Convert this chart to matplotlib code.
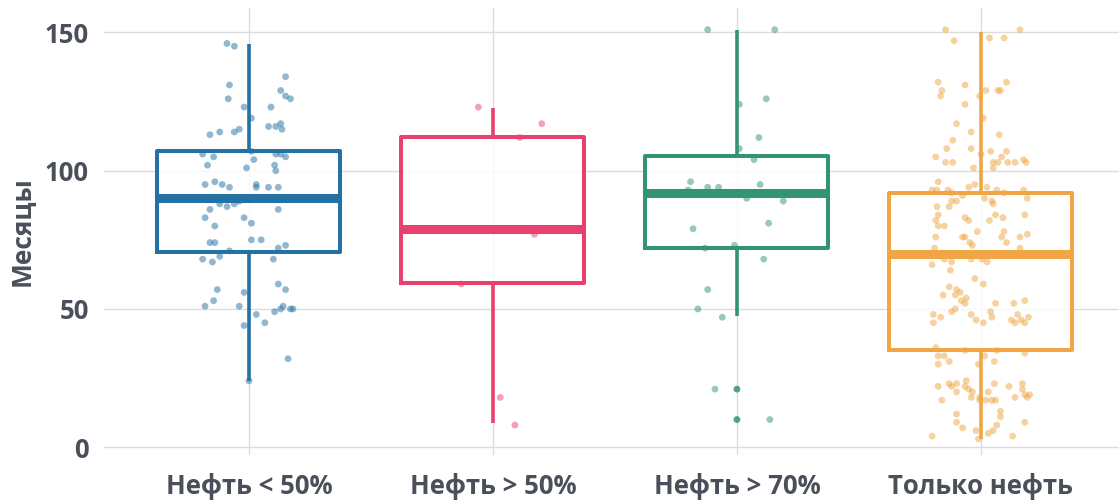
import matplotlib
matplotlib.use("Agg")
import matplotlib.pyplot as plt

# categories and colours
groups = ["Нефть < 50%", "Нефть > 50%", "Нефть > 70%", "Только нефть"]
colors = ["#2471a3", "#e8416f", "#339470", "#f0a644"]

# box statistics (months)
q1 = [70.7, 59.5, 72.0, 35.1]
med = [90.1, 79.0, 91.9, 69.8]
q3 = [107.0, 112.2, 105.4, 91.9]
whislo = [24, 8.6, 47.5, 3.1]
whishi = [145.7, 122.7, 150.8, 150.0]

# individual observations: horizontal jitter and value
blue_dx = [-0.09, -0.06, 0.15, -0.08, 0.13, 0.15, 0.17, -0.085, -0.02, 0.09,
           0.01, 0.08, 0.11, 0.13, 0.135, -0.04, -0.06, -0.12, -0.16, -0.19,
           0.01, 0.11, 0.13, 0.15, -0.145, 0.02, -0.17, 0.105, -0.01, 0.11,
           -0.18, -0.14, -0.11, -0.08, 0.03, 0.03, 0.08, 0.12,
           -0.16, -0.12, -0.09, -0.06, -0.04, 0.12,
           -0.18, -0.02, 0.01, -0.14, 0.01, 0.05, -0.16, -0.14, -0.08, 0.12,
           0.15, -0.19, -0.12, -0.15, 0.10, 0.12, 0.15, -0.13, -0.02, -0.145,
           -0.18, -0.04, 0.14, 0.13, 0.105, 0.17, 0.18, 0.03, 0.065, -0.02,
           0.16, 0.0]
blue_y = [146, 145, 134, 131, 129, 127, 126, 126, 123, 123,
          119, 116, 116, 117, 115, 115, 114, 114, 113, 106,
          107, 106, 106, 105, 105, 104, 102, 102, 101, 100,
          95, 96, 95, 94, 95, 94, 94, 94,
          86, 88, 87, 88, 89, 86,
          83, 83, 81, 80, 75, 75, 74, 74, 71, 72,
          73, 68, 69, 67, 68, 59, 57, 57, 56, 53,
          51, 51, 51, 50, 49, 50, 50, 48, 45, 44,
          32, 24]

pink_dx = [-0.06, 0.20, 0.11, 0.17, -0.13, 0.03, 0.09]
pink_y = [123, 117, 112, 77, 59, 18, 8]

green_dx = [-0.12, 0.155, 0.01, 0.12, 0.09, 0.01, 0.07, -0.19, -0.12, -0.075,
            0.095, -0.2, 0.04, 0.19, 0.13, -0.18, -0.13, -0.01, 0.11, -0.12,
            -0.16, -0.06, -0.09, 0.135]
green_y = [151, 151, 124, 126, 112, 108, 104, 96, 94, 94,
           95, 93, 90, 89, 81, 79, 72, 73, 68, 57,
           50, 47, 21, 10]
# values beyond the whiskers, drawn on the centre line
green_out = [21, 10]

orange_dx = [-0.145, 0.16, -0.11, 0.035, 0.095, -0.175, -0.16, -0.165, -0.065, 0.105,
             0.02, 0.07, 0.08, -0.005, -0.065, 0.01, -0.1, -0.04, 0.075, -0.115,
             -0.14, -0.04, 0.105, 0.04, -0.185, 0.0, 0.085, 0.175, -0.145, -0.115,
             0.05, 0.07, 0.11, 0.14, 0.185, -0.03, 0.05,
             -0.175, -0.2, -0.18, -0.135, -0.05, -0.025, 0.025, 0.065, 0.175, 0.19,
             -0.12, -0.075, 0.095, -0.10, -0.12, -0.13, 0.015, 0.045, 0.05, -0.18,
             0.18, -0.175, 0.06, 0.09, 0.035, -0.185, -0.065, -0.05, -0.15, -0.175,
             -0.015, 0.095, 0.19, 0.16, 0.085, 0.105, -0.185, -0.075, -0.065, -0.045,
             -0.035, -0.19, 0.16, -0.15, -0.12, -0.04, 0.005, 0.025, -0.2, -0.125,
             -0.025, 0.01, -0.13, -0.1, -0.085, -0.105, -0.155, -0.06, -0.08, -0.065,
             0.06, 0.135, 0.18,
             -0.195, -0.165, -0.195, -0.12, -0.105, -0.04, -0.02, 0.01, 0.04, 0.045,
             0.125, 0.14, 0.15, 0.165, 0.18, 0.195, -0.185, -0.065, 0.065, 0.18,
             -0.175, -0.15, -0.13, -0.175, 0.015, 0.055, -0.01,
             -0.175, -0.13, -0.12, -0.1, -0.06, -0.065, -0.05, -0.035, -0.1, -0.04,
             -0.005, 0.03, 0.055, 0.115, 0.17, 0.17, 0.18, 0.19, 0.2, 0.14,
             -0.16, -0.005, 0.02, 0.045, 0.06, 0.08, 0.08, -0.1, -0.1, -0.075,
             -0.02, 0.065, 0.18, -0.2, -0.01, 0.03, 0.05, 0.13]
orange_y = [151, 151, 147, 148, 148, 132, 129, 127, 131, 132,
            129, 129, 129, 127, 124, 119, 117, 114, 113, 111,
            108, 108, 107, 107, 105, 106, 105, 104, 103, 103,
            103, 103, 103, 103, 103, 101, 101,
            96, 93, 93, 93, 94, 95, 94, 93, 93, 90,
            92, 91, 92, 89, 89, 87, 90, 89, 88, 87,
            84, 84, 84, 83, 82, 82, 83, 82, 80, 80,
            78, 78, 77, 76, 76, 74, 76, 76, 76, 74,
            73, 72, 72, 68, 67, 68, 68, 67, 66, 64,
            61, 59, 58, 57, 56, 55, 55, 54, 53, 52,
            52, 52, 53,
            48, 47, 45, 49, 50, 48, 46, 45, 49, 47,
            46, 45, 48, 46, 45, 47, 36, 35, 35, 34,
            33, 33, 31, 30, 33, 31, 30,
            22, 23, 22, 23, 24, 22, 21, 20, 20, 18,
            18, 20, 23, 22, 23, 21, 19, 18, 19, 18,
            17, 17, 17, 17, 17, 13, 11, 12, 9, 7,
            6, 8, 9, 4, 3, 5, 6, 4]

points_dx = [blue_dx, pink_dx, green_dx, orange_dx]
points_y = [blue_y, pink_y, green_y, orange_y]

text_color = "#4a4f5a"
plt.rcParams["font.family"] = ["Open Sans", "DejaVu Sans"]

fig = plt.figure(figsize=(11.19, 5.03), dpi=100)
ax = fig.add_axes([0.093, 0.095, 0.907, 0.89])

stats = []
for i, name in enumerate(groups):
    stats.append({"label": name, "q1": q1[i], "med": med[i], "q3": q3[i],
                  "whislo": whislo[i], "whishi": whishi[i], "fliers": []})
pos = list(range(len(groups)))

# white fill behind the points so the grid fades inside the boxes
fill = ax.bxp(stats, positions=pos, widths=0.75, patch_artist=True,
              showcaps=False, showfliers=False,
              boxprops=dict(facecolor=(1, 1, 1, 0.85), edgecolor="none"),
              whiskerprops=dict(visible=False),
              medianprops=dict(visible=False), zorder=1.5)

for i in pos:
    xs = [i + d for d in points_dx[i]]
    ax.scatter(xs, points_y[i], s=24, color=colors[i], alpha=0.5,
               edgecolors="none", zorder=2)
ax.scatter([2] * len(green_out), green_out, s=24, color=colors[2], alpha=0.85,
           edgecolors="none", zorder=2.1)

lines = ax.bxp(stats, positions=pos, widths=0.75, showcaps=False,
               showfliers=False,
               boxprops=dict(linewidth=2.9),
               whiskerprops=dict(linewidth=2.6, solid_capstyle="butt"),
               medianprops=dict(linewidth=6.5, solid_capstyle="butt"),
               zorder=3)
for i, c in enumerate(colors):
    lines["boxes"][i].set_color(c)
    lines["medians"][i].set_color(c)
    lines["whiskers"][2 * i].set_color(c)
    lines["whiskers"][2 * i + 1].set_color(c)

ax.set_xlim(-0.594, 3.566)
ax.set_ylim(-2.9, 159)
ax.set_yticks([0, 50, 100, 150])
ax.set_xticks(pos)
ax.set_xticklabels(groups)
ax.grid(True, color="#dcdcdc", linewidth=1, zorder=0)
ax.set_axisbelow(True)
for s in ax.spines.values():
    s.set_visible(False)
ax.tick_params(length=0, labelsize=18.5, colors=text_color)
ax.tick_params(axis="x", pad=13)
ax.tick_params(axis="y", pad=11)
for t in ax.get_xticklabels() + ax.get_yticklabels():
    t.set_fontweight("bold")

ax.set_ylabel("Месяцы", fontsize=19, fontweight="bold", color=text_color)
ax.yaxis.label.set_va("center")
ax.yaxis.set_label_coords(-0.081, 0.5)

fig.savefig("out.png", dpi=100)
